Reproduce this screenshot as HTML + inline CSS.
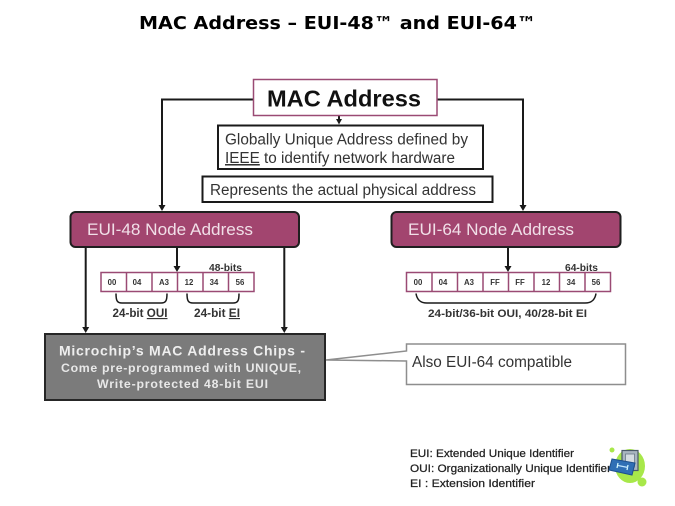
<!DOCTYPE html>
<html><head><meta charset="utf-8">
<style>
html,body{margin:0;padding:0;background:#fff;width:675px;height:506px;overflow:hidden}
svg{display:block;font-family:"Liberation Sans",sans-serif;filter:blur(.3px)}
</style></head><body>
<svg width="675" height="506" viewBox="0 0 675 506" xmlns="http://www.w3.org/2000/svg">
<rect width="675" height="506" fill="#fff"/>
<text x="139" y="29" font-family="DejaVu Sans,sans-serif" font-weight="bold" font-size="17.500" textLength="397" lengthAdjust="spacingAndGlyphs" fill="#000">MAC Address – EUI-48™ and EUI-64™</text>

<!-- connectors -->
<g fill="none" stroke="#1a1a1a" stroke-width="2">
<path d="M254 99.500H162V207"/>
<path d="M437 99.500H523V207"/>
<path d="M339 116V120"/>
<path d="M85.700 247V328"/>
<path d="M177 247V268"/>
<path d="M284.300 247V328"/>
<path d="M508 247V268"/>
</g>
<g fill="#1a1a1a">
<path d="M158.500 205h7l-3.500 6z"/>
<path d="M519.500 205h7l-3.500 6z"/>
<path d="M336 119h6l-3 5.500z"/>
<path d="M82.200 327h7l-3.500 6z"/>
<path d="M173.500 266h7l-3.500 6z"/>
<path d="M280.800 327h7l-3.500 6z"/>
<path d="M504.500 266h7l-3.500 6z"/>
</g>

<!-- MAC Address -->
<rect x="253.500" y="79.500" width="183.500" height="36" fill="#fff" stroke="#9a4a74" stroke-width="1.500"/>
<text x="267" y="106.500" font-weight="bold" font-size="23.500" textLength="154" lengthAdjust="spacingAndGlyphs" fill="#111">MAC Address</text>

<!-- Description boxes -->
<rect x="218" y="125.500" width="265" height="43.500" fill="#fff" stroke="#1a1a1a" stroke-width="2"/>
<text x="225" y="144.500" font-size="15.300" textLength="243" lengthAdjust="spacingAndGlyphs" fill="#333">Globally Unique Address defined by</text>
<text x="225" y="163" font-size="15.300" textLength="230" lengthAdjust="spacingAndGlyphs" fill="#333"><tspan text-decoration="underline">IEEE</tspan> to identify network hardware</text>
<rect x="202.500" y="176.500" width="290" height="25.500" fill="#fff" stroke="#1a1a1a" stroke-width="2"/>
<text x="210" y="195" font-size="15.300" textLength="266" lengthAdjust="spacingAndGlyphs" fill="#333">Represents the actual physical address</text>

<!-- Node boxes -->
<rect x="70.500" y="212" width="228.500" height="35" rx="5" fill="#a2456f" stroke="#1f1f1f" stroke-width="2"/>
<text x="87" y="235" font-size="17" textLength="166" lengthAdjust="spacingAndGlyphs" fill="#f1dfe8">EUI-48 Node Address</text>
<rect x="391.500" y="212" width="229" height="35" rx="5" fill="#a2456f" stroke="#1f1f1f" stroke-width="2"/>
<text x="408" y="235" font-size="17" textLength="166" lengthAdjust="spacingAndGlyphs" fill="#f1dfe8">EUI-64 Node Address</text>

<!-- 48-bit cells -->
<text x="209" y="271" font-weight="bold" font-size="10.200" textLength="33" lengthAdjust="spacingAndGlyphs" fill="#333">48-bits</text>
<g fill="#fff" stroke="#9a4a74" stroke-width="1.500">
<rect x="101" y="272.500" width="153" height="19"/>
<path d="M126.500 272.500v19M152 272.500v19M177.500 272.500v19M203 272.500v19M228.500 272.500v19"/>
</g>
<g font-weight="bold" font-size="7.800" text-anchor="middle" fill="#333">
<text x="112" y="285">00</text><text x="137" y="285">04</text><text x="164" y="285">A3</text>
<text x="189" y="285">12</text><text x="214" y="285">34</text><text x="240" y="285">56</text>
</g>
<g fill="none" stroke="#1a1a1a" stroke-width="1.500">
<path d="M116 293.500c0 7 1 9.500 6 9.500h39c5 0 6-2.500 6-9.500"/>
<path d="M187 293.500c0 7 1 9.500 6 9.500h40c5 0 6-2.500 6-9.500"/>
</g>
<text x="112.500" y="317" font-weight="bold" font-size="11.600" textLength="55" lengthAdjust="spacingAndGlyphs" fill="#333">24-bit <tspan text-decoration="underline">OUI</tspan></text>
<text x="194" y="317" font-weight="bold" font-size="11.600" textLength="46" lengthAdjust="spacingAndGlyphs" fill="#333">24-bit <tspan text-decoration="underline">EI</tspan></text>

<!-- 64-bit cells -->
<text x="565" y="271" font-weight="bold" font-size="10.200" textLength="33" lengthAdjust="spacingAndGlyphs" fill="#333">64-bits</text>
<g fill="#fff" stroke="#9a4a74" stroke-width="1.500">
<rect x="406.500" y="272.500" width="204" height="19"/>
<path d="M432 272.500v19M457.500 272.500v19M483 272.500v19M508.500 272.500v19M534 272.500v19M559.500 272.500v19M585 272.500v19"/>
</g>
<g font-weight="bold" font-size="7.800" text-anchor="middle" fill="#333">
<text x="418" y="285">00</text><text x="443" y="285">04</text><text x="469" y="285">A3</text><text x="495" y="285">FF</text>
<text x="520" y="285">FF</text><text x="546" y="285">12</text><text x="571" y="285">34</text><text x="596" y="285">56</text>
</g>
<path d="M416 293.500c1 6 4 9.500 11 9.500h158c7 0 10-3.500 11-9.500" fill="none" stroke="#1a1a1a" stroke-width="1.500"/>
<text x="428" y="317" font-weight="bold" font-size="11.300" textLength="159" lengthAdjust="spacingAndGlyphs" fill="#333">24-bit/36-bit OUI, 40/28-bit EI</text>

<!-- Gray box -->
<rect x="45" y="334" width="280" height="66" fill="#7b7b7b" stroke="#262626" stroke-width="2"/>
<text x="59" y="355.500" font-weight="bold" font-size="14" textLength="246" fill="#eeeeee">Microchip’s MAC Address Chips -</text>
<text x="61" y="372" font-weight="bold" font-size="12.300" textLength="240" fill="#e8e8e8">Come pre-programmed with UNIQUE,</text>
<text x="97" y="388" font-weight="bold" font-size="12.300" textLength="171" fill="#e8e8e8">Write-protected  48-bit EUI</text>

<!-- Callout -->
<path d="M326 360L406.500 351V344H625.500V384.500H406.500V361Z" fill="#fff" stroke="#8e8e8e" stroke-width="1.500"/>
<text x="412" y="367" font-size="15.300" textLength="160" lengthAdjust="spacingAndGlyphs" fill="#333">Also EUI-64 compatible</text>

<!-- Legend -->
<g font-size="11.200" fill="#222" stroke="#222" stroke-width=".25">
<text x="410" y="457" textLength="164" lengthAdjust="spacingAndGlyphs">EUI: Extended Unique Identifier</text>
<text x="410" y="472" textLength="201" lengthAdjust="spacingAndGlyphs">OUI: Organizationally Unique Identifier</text>
<text x="410" y="487" textLength="125" lengthAdjust="spacingAndGlyphs">EI  : Extension Identifier</text>
</g>

<!-- Chip icon -->
<ellipse cx="630" cy="466" rx="15" ry="17" fill="#a8e84a"/>
<circle cx="642" cy="482" r="4.500" fill="#a8e84a"/>
<circle cx="612" cy="450" r="2.500" fill="#a8e84a"/>
<rect x="622" y="450.500" width="16" height="20" fill="#a9b6c0" stroke="#4a5a68" stroke-width="1.200"/>
<rect x="625.500" y="454" width="9" height="13" fill="#d5dde2" stroke="#6a7a88" stroke-width=".8"/>
<path d="M612 459L635 463L632 475L609 470Z" fill="#2f6fb5" stroke="#1d4f8c" stroke-width="1"/>
<path d="M618 463l-1 5M628 465l-1 5" stroke="#dff" stroke-width="1.200"/>
<path d="M618 465.500l10 2" stroke="#bfe4ff" stroke-width="1.200"/>
</svg>
</body></html>
